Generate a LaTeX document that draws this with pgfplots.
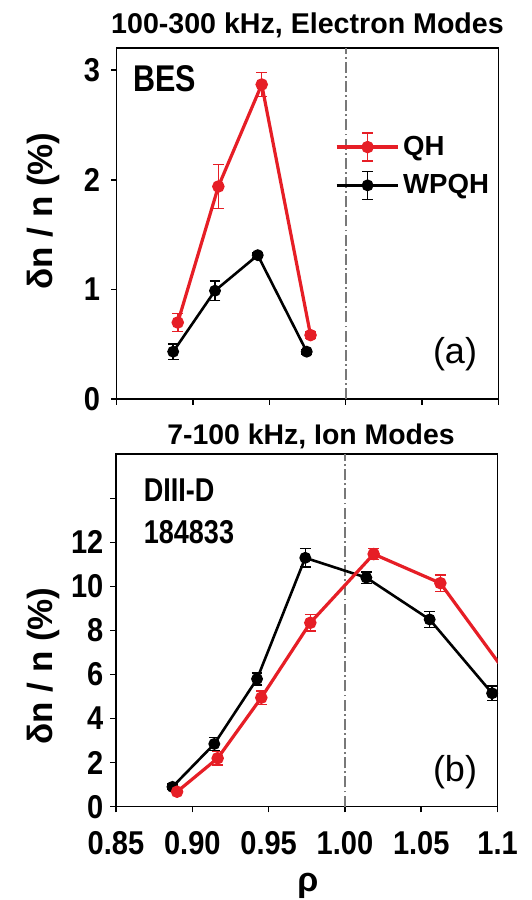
\documentclass[border=0pt]{standalone}
\usepackage{fontspec}
\setmainfont{Liberation Sans}
\newfontfamily\tickfont{Liberation Sans}[FakeStretch=0.88]
\newfontfamily\condfont{Liberation Sans}[FakeStretch=0.82]
\usepackage{pgfplots}
\pgfplotsset{compat=1.18}
\usepackage{pgfplotstable}
\definecolor{qhred}{RGB}{230,30,38}
\definecolor{dashgray}{RGB}{120,120,120}

\pgfplotstableread{
x y e
0.8900 0.700 0.08
0.9166 1.940 0.20
0.9450 2.870 0.11
0.9770 0.585 0.03
}\topqh
\pgfplotstableread{
x y e
0.8870 0.434 0.07
0.9144 0.990 0.09
0.9424 1.314 0.02
0.9745 0.434 0.02
}\topwp
\pgfplotstableread{
x y e
0.8900 0.68 0.10
0.9166 2.20 0.30
0.9452 4.95 0.30
0.9773 8.35 0.38
1.0188 11.47 0.25
1.0625 10.15 0.38
}\botqh
\pgfplotstableread{
x y
1.0625 10.15
1.1200 4.70
}\botqhext
\pgfplotstableread{
x y e
0.8870 0.90 0.12
0.9144 2.85 0.30
0.9424 5.80 0.27
0.9740 11.30 0.42
1.0140 10.40 0.26
1.0555 8.50 0.36
1.0964 5.15 0.33
}\botwp

\pgfplotsset{
  panel/.style={scale only axis, width=190.8pt, xmin=0.85, xmax=1.1,
    xtick={0.85,0.90,0.95,1.00,1.05,1.10},
    tick align=outside, xtick pos=lower, ytick pos=left,
    major tick length=2.8pt,
    axis line style={line width=0.8pt},
    every tick/.style={line width=0.8pt, black},
    tick label style={font=\tickfont\bfseries\fontsize{16.5}{16.5}\selectfont},
    /pgf/number format/assume math mode=true,
    clip=true},
  errstyle/.style={/pgfplots/error bars/y dir=both, /pgfplots/error bars/y explicit,
    /pgfplots/error bars/error bar style={line width=0.75pt, solid},
    /pgfplots/error bars/error mark options={rotate=90, mark size=2.7pt, line width=0.75pt}},
  qh/.style={color=qhred, line width=1.6pt, mark=*, mark size=2.3pt},
  wp/.style={color=black, line width=1.3pt, mark=*, mark size=2.3pt},
  vline/.style={dashgray, line width=0.95pt, dash pattern=on 5.5pt off 1.6pt on 0.9pt off 1.6pt, forget plot},
}

\begin{document}
\begin{tikzpicture}
\useasboundingbox (0,0) rectangle (265.5pt,450pt);

% ---------- top panel ----------
\begin{axis}[panel, at={(58.35pt,250.35pt)}, anchor=south west, height=175.5pt,
  ymin=0, ymax=3.2, ytick={0,1,2,3}, xticklabels={},
  yticklabel style={xshift=-2pt},
  legend image code/.code={
    \draw[#1, mark=none] (0pt,0pt) -- (30.5pt,0pt);
    \draw[#1, mark=none, line width=0.75pt] (15.5pt,-7pt) -- (15.5pt,7pt) (12.8pt,-7pt) -- (18.2pt,-7pt) (12.8pt,7pt) -- (18.2pt,7pt);
    \draw[#1, only marks] plot coordinates {(15.5pt,0pt)};
  },
  legend style={at={(0.571,0.664)}, anchor=west, draw=none, fill=none,
    font=\bfseries\fontsize{13.8}{13.8}\selectfont, inner sep=0pt, row sep=4pt},
  legend cell align=left]
\addplot[vline] coordinates {(1,0) (1,3.2)};
\addplot[qh, errstyle] table[x=x, y=y, y error=e] {\topqh};
\addlegendentry{QH}
\addplot[wp, errstyle] table[x=x, y=y, y error=e] {\topwp};
\addlegendentry{WPQH}
\end{axis}

% ---------- bottom panel ----------
\begin{axis}[panel, at={(58pt,46.65pt)}, anchor=south west, height=176.2pt,
  ymin=0, ymax=16, ytick={0,2,4,6,8,10,12,14},
  yticklabels={0,2,4,6,8,10,12,{}},
  xticklabels={0.85,0.90,0.95,1.00,1.05,1.1},
  xticklabel style={yshift=-6pt}]
\addplot[vline] coordinates {(1,0) (1,16)};
\addplot[wp, errstyle] table[x=x, y=y, y error=e] {\botwp};
\addplot[qh, mark=none] table[x=x, y=y] {\botqhext};
\addplot[qh, errstyle] table[x=x, y=y, y error=e] {\botqh};
\end{axis}

% ---------- texts ----------
\node[anchor=base, font=\bfseries\fontsize{14.3}{14.3}\selectfont] at (153.75pt,433.3pt) {100-300 kHz, Electron Modes};
\node[anchor=base, font=\bfseries\fontsize{14.2}{14.2}\selectfont] at (155.5pt,227.5pt) {7-100 kHz, Ion Modes};
\node[rotate=90, font=\bfseries\fontsize{17.5}{17.5}\selectfont] at (21.75pt,344.5pt) {δn / n (\%)};
\node[rotate=90, font=\bfseries\fontsize{17.5}{17.5}\selectfont] at (21.75pt,117pt) {δn / n (\%)};
\node[anchor=base west, inner sep=0pt, font=\condfont\bfseries\fontsize{18.6}{18.6}\selectfont] at (66.5pt,404.2pt) {BES};
\node[font=\fontsize{18}{18}\selectfont] at (227.5pt,273pt) {(a)};
\node[anchor=base west, inner sep=0pt, font=\condfont\bfseries\fontsize{16.5}{16.5}\selectfont] at (71.7pt,199.2pt) {DIII-D};
\node[anchor=base west, inner sep=0pt, font=\condfont\bfseries\fontsize{16.5}{16.5}\selectfont] at (71.7pt,178.3pt) {184833};
\node[font=\fontsize{18}{18}\selectfont] at (227.5pt,63.8pt) {(b)};
\node[anchor=base, inner sep=0pt, font=\bfseries\fontsize{17}{17}\selectfont] at (154pt,4.5pt) {ρ};
\end{tikzpicture}
\end{document}
